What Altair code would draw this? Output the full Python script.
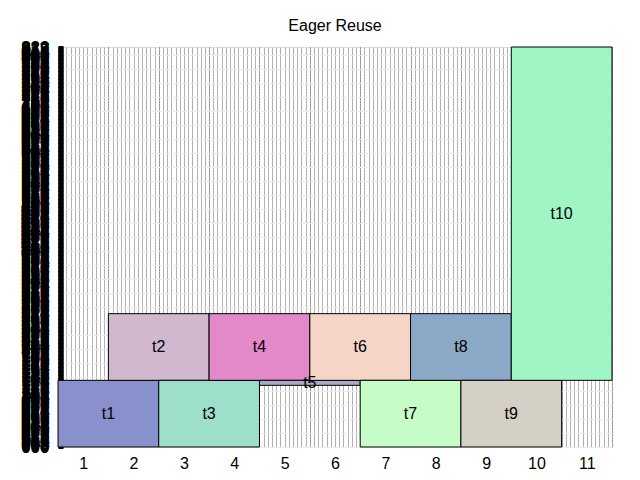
import altair as alt
import pandas as pd

# ---- data -------------------------------------------------------------
names = ["t1", "t2", "t3", "t4", "t5", "t6", "t7", "t8", "t9", "t10"]
x_start = [0, 1, 2, 3, 4, 5, 6, 7, 8, 9]
x_end = [2, 3, 4, 5, 6, 7, 8, 9, 10, 11]
y_start = [0, 1, 0, 1, 0.925, 1, 0, 1, 0, 1]
y_end = [1, 2, 1, 2, 1, 2, 1, 2, 1, 6]
colors = ["#8891cc", "#d0b8cf", "#9ddfcb", "#e388c8", "#a9a9c9",
          "#f5d6c6", "#c6fdc6", "#8ba8c6", "#d5d0c5", "#a0f5c5"]
x_tick_pos = [0.5, 1.5, 2.5, 3.5, 4.5, 5.5, 6.5, 7.5, 8.5, 9.5, 10.5]
x_tick_labels = ["1", "2", "3", "4", "5", "6", "7", "8", "9", "10", "11"]

df = pd.DataFrame({"name": names, "x0": x_start, "x1": x_end,
                   "y0": y_start, "y1": y_end})
df["xc"] = (df["x0"] + df["x1"]) / 2
df["yc"] = (df["y0"] + df["y1"]) / 2

FONT = "Liberation Sans"
xs = alt.Scale(domain=[0, 11], nice=False, zero=False)
ys = alt.Scale(domain=[0, 6], nice=False, zero=False)

dense_x = [i / 12 for i in range(0, 11 * 12 + 1)]
int_x = list(range(0, 12))
grid_y = [i * 0.21 for i in range(0, 29)]
dense_y = [i * 0.02 for i in range(0, 301)]

label_js = "[" + ",".join("'%s'" % s for s in x_tick_labels) + "][round(datum.value - 0.5)]"

# vertical dense grid + faint horizontal grid
grid1 = alt.Chart(df).mark_rect(opacity=0).encode(
    x=alt.X("x0:Q", scale=xs, axis=alt.Axis(values=dense_x, grid=True, gridColor="#b2b2b2",
                                            gridWidth=1, labels=False, ticks=False, domain=False,
                                            orient="top", title=None)),
    y=alt.Y("y0:Q", scale=ys, axis=alt.Axis(values=grid_y, grid=True, gridColor="#ececec",
                                            gridWidth=1, labels=False, ticks=False, domain=False,
                                            orient="right", title=None)),
)

grid2 = alt.Chart(df).mark_rect(opacity=0).encode(
    x=alt.X("x1:Q", scale=xs, axis=alt.Axis(values=int_x, grid=True, gridColor="#777777",
                                            gridDash=[1, 2], gridWidth=1, labels=False,
                                            ticks=False, domain=False, orient="top", title=None)),
    y=alt.Y("y1:Q", scale=ys, axis=None),
)

rects = alt.Chart(df).mark_rect(stroke="black", strokeWidth=1, opacity=1).encode(
    x=alt.X("x0:Q", scale=xs,
            axis=alt.Axis(values=x_tick_pos, labelExpr=label_js, grid=False, ticks=False,
                          domain=False, labelFontSize=16, labelFont=FONT, labelColor="black",
                          labelPadding=8, orient="bottom", title=None)),
    x2="x1:Q",
    y=alt.Y("y0:Q", scale=ys,
            axis=alt.Axis(values=dense_y, labelExpr="format(round(datum.value * 137) % 1000, '03d')",
                          labelFontSize=17, labelFontWeight="bold", labelFont=FONT,
                          labelColor="black", labelOverlap=False, labelBound=False,
                          labelFlush=False, tickSize=5, tickColor="black", tickWidth=3,
                          offset=-5, labelPadding=9, domain=False, grid=False,
                          orient="left", title=None)),
    y2="y1:Q",
    color=alt.Color("name:N", scale=alt.Scale(domain=names, range=colors), legend=None),
)

labels = alt.Chart(df).mark_text(fontSize=16, font=FONT, color="black").encode(
    x=alt.X("xc:Q", scale=xs, axis=None),
    y=alt.Y("yc:Q", scale=ys, axis=None),
    text="name:N",
)

chart = alt.layer(grid1, grid2, rects, labels).resolve_axis(
    x="independent", y="independent"
).properties(
    width=554, height=400,
    title=alt.TitleParams("Eager Reuse", fontSize=16, fontWeight="normal", font=FONT,
                          color="black", anchor="middle", offset=4),
    autosize=alt.AutoSizeParams(type="none"),
    padding={"left": 58, "top": 47, "right": 28, "bottom": 33},
).configure_view(stroke="black", strokeWidth=1.5).configure(background="white")

chart.save("out.html", embed_options={"renderer": "svg", "actions": False})
